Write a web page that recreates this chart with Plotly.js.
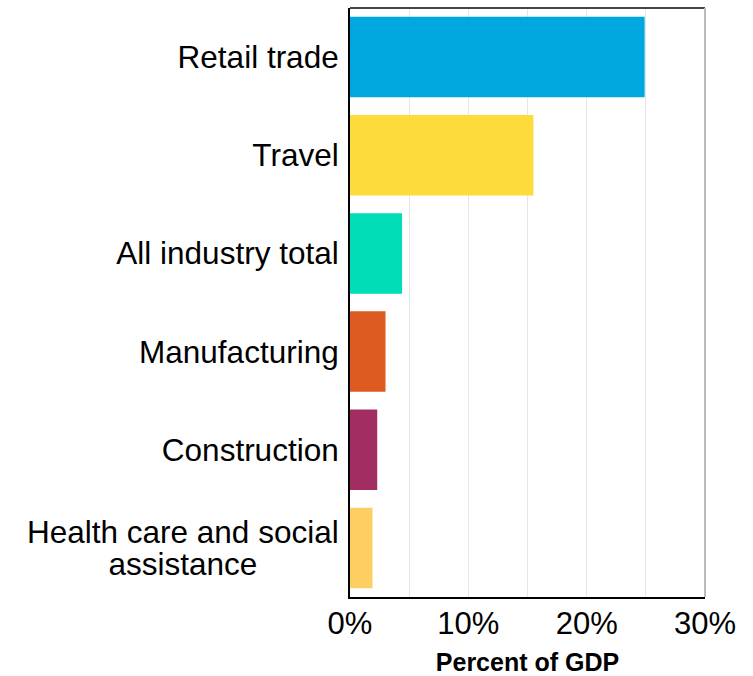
<!DOCTYPE html>
<html><head><meta charset="utf-8">
<script src="https://cdn.plot.ly/plotly-3.0.1.min.js"></script>
<style>html,body{margin:0;padding:0;background:#fff}</style>
</head><body><div id="chart" style="width:753px;height:676px"></div>
<script>
const categories = ["Retail trade","Travel","All industry total","Manufacturing","Construction","Health care and social<br>assistance"];
const values = [24.9, 15.5, 4.4, 3.0, 2.3, 1.9];
const colors = ["#00A7E0","#FDDB3A","#00DDB7","#DD5A20","#A22D62","#FFCE62"];
const xTickVals = [0,10,20,30];
const xTickText = ["0%","10%","20%","30%"];
const xTitle = "Percent of GDP";

const FONT = "'Liberation Sans', Arial, sans-serif";

const data = [{
  type: 'bar',
  orientation: 'h',
  x: values,
  y: categories,
  marker: {color: colors, line: {width: 0}},
  hoverinfo: 'none'
}];

const layout = {
  width: 753, height: 676,
  margin: {l: 350, r: 48, t: 8, b: 79, pad: 0},
  paper_bgcolor: '#fff', plot_bgcolor: '#fff',
  bargap: 0.18,
  showlegend: false,
  font: {family: FONT, color: '#000'},
  xaxis: {
    range: [0, 30],
    tickvals: xTickVals, ticktext: xTickText,
    showgrid: true, gridcolor: '#e6e6e6', gridwidth: 1,
    minor: {dtick: 5, showgrid: true, gridcolor: '#e6e6e6', gridwidth: 1},
    zeroline: false,
    showline: true, linecolor: '#000', linewidth: 2,
    ticks: '', ticklabelstandoff: -2,
    tickfont: {family: FONT, size: 31, color: '#000'},
    title: {text: xTitle, font: {family: FONT, size: 25, color: '#000', weight: 'bold'}, standoff: 22}
  },
  yaxis: {
    type: 'category',
    autorange: 'reversed',
    showgrid: false, zeroline: false,
    showline: true, linecolor: '#000', linewidth: 2,
    ticks: '', ticklabelstandoff: 3,
    tickfont: {family: FONT, size: 31.5, color: '#000'}
  },
  shapes: [
    {type: 'line', xref: 'paper', yref: 'paper', x0: 0, x1: 1, y0: 1, y1: 1, line: {color: '#444', width: 2}},
    {type: 'line', xref: 'paper', yref: 'paper', x0: 1, x1: 1, y0: 0, y1: 1, line: {color: '#bbb', width: 2}}
  ]
};

Plotly.newPlot('chart', data, layout, {staticPlot: true, displayModeBar: false}).then(gd => {
  const LS = 1.04, d = 1.3 - LS;
  gd.querySelectorAll('.ytick text').forEach(t => {
    const lines = Array.from(t.querySelectorAll('tspan.line'));
    const n = lines.length;
    if (n < 2) return;
    const widths = lines.map(l => l.getComputedTextLength());
    const W = Math.max(...widths);
    lines.forEach((l, k) => {
      const old = l.getAttribute('dy') || '0em';
      let v = parseFloat(old) || 0;
      if (old.indexOf('em') >= 0) {
        v = v - k * d + d * (n - 1) / 2;
        l.setAttribute('dy', v + 'em');
      }
      const x0 = parseFloat(l.getAttribute('x') || t.getAttribute('x') || 0);
      l.setAttribute('x', x0 - (W - widths[k]) / 2);
    });
  });
});
</script>
</body></html>
